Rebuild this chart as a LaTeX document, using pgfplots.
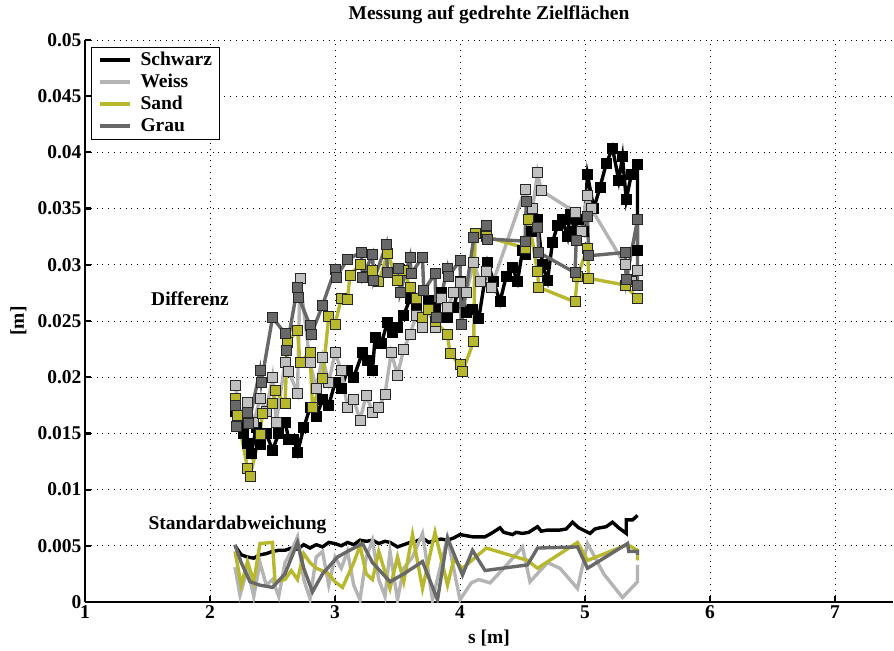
\documentclass[border=0pt]{standalone}
\usepackage{pgfplots}
\pgfplotsset{compat=1.18}
\usepackage{fontspec}
\setmainfont{Liberation Serif}
\definecolor{weiss}{RGB}{180,180,180}
\definecolor{weissf}{RGB}{192,192,192}
\definecolor{sand}{RGB}{184,184,46}
\definecolor{grau}{RGB}{104,104,104}
\newcommand{\ff}{\fontsize{19.5bp}{22bp}\selectfont\bfseries}
\begin{document}
\begin{tikzpicture}
\path[use as bounding box] (-85bp,-49bp) rectangle (809bp,602bp);
\begin{axis}[
  scale only axis, width=808bp, height=562bp,
  xmin=1, xmax=7.464, ymin=0, ymax=0.05,
  xtick={1,2,3,4,5,6,7},
  ytick={0,0.005,0.01,0.015,0.02,0.025,0.03,0.035,0.04,0.045,0.05},
  scaled y ticks=false,
  /pgf/number format/fixed, /pgf/number format/precision=3, /pgf/number format/assume math mode=true,
  axis x line*=bottom, axis y line*=left,
  axis line style={line width=2.6bp, -},
  tick align=inside, major tick length=6bp,
  every tick/.style={line width=2.2bp, black},
  grid=major,
  major grid style={black, line width=0.7bp, dash pattern=on 0.8bp off 5bp},
  ticklabel style={font=\ff},
  title={Messung auf gedrehte Zielflächen},
  title style={font=\ff, at={(axis description cs:0.5,1.0267)}, anchor=base},
  xlabel={s [m]},
  xlabel style={font=\ff, at={(axis description cs:0.5,-0.0747)}, anchor=base},
  ylabel={[m]},
  ylabel style={font=\ff, at={(axis description cs:-0.0755,0.5)}, anchor=base},
  legend style={font=\ff, at={(axis description cs:0.0075,0.988)}, anchor=north west,
    draw=black, line width=0.9bp, inner xsep=6bp, inner ysep=3bp, row sep=2bp, fill=white,
    nodes={inner sep=1bp, text height=14bp, text depth=4bp},
    /tikz/every odd column/.append style={column sep=8bp}},
  legend cell align=left,
  legend image code/.code={\draw[#1] (0bp,0bp) -- (30bp,0bp);},
  every axis plot/.append style={line width=3.4bp},
  mark size=5bp,
]
\addlegendimage{black, line width=4bp}
\addlegendentry{Schwarz}
\addlegendimage{weiss, line width=4bp}
\addlegendentry{Weiss}
\addlegendimage{sand, line width=4bp}
\addlegendentry{Sand}
\addlegendimage{grau, line width=4bp}
\addlegendentry{Grau}

% ---------------- Differenz ----------------
\addplot[forget plot, black, mark=square*, mark options={solid, fill=black, draw=black, line width=0.8bp}] coordinates {
(2.20,0.0170) (2.22,0.0158) (2.27,0.0150) (2.30,0.0141) (2.33,0.0132) (2.37,0.0155)
(2.40,0.0140) (2.45,0.0150) (2.50,0.0135) (2.55,0.0150) (2.60,0.0160) (2.63,0.0145)
(2.67,0.0145) (2.70,0.0133) (2.75,0.0155) (2.80,0.0173) (2.85,0.0165) (2.90,0.0180)
(2.95,0.0175) (3.00,0.0195) (3.05,0.0190) (3.10,0.0206) (3.15,0.0200) (3.22,0.0222)
(3.26,0.0215) (3.30,0.0206) (3.32,0.0235) (3.37,0.0230) (3.42,0.0249) (3.46,0.0240)
(3.50,0.0244) (3.55,0.0255) (3.60,0.0270) (3.65,0.0262) (3.70,0.0253) (3.75,0.0268)
(3.80,0.0262) (3.85,0.0275) (3.90,0.0253) (3.95,0.0262) (4.00,0.0285) (4.05,0.0258)
(4.10,0.0260) (4.15,0.0252) (4.22,0.0302) (4.27,0.0285) (4.32,0.0267) (4.37,0.0290)
(4.42,0.0298) (4.46,0.0285) (4.50,0.0313) (4.52,0.0309) (4.57,0.0330) (4.62,0.0340)
(4.66,0.0300) (4.70,0.0286) (4.74,0.0320) (4.78,0.0335) (4.82,0.0340) (4.86,0.0325)
(4.88,0.0345) (4.92,0.0330) (4.95,0.0340) (4.99,0.0330) (5.02,0.0380) (5.07,0.0350)
(5.12,0.0369) (5.17,0.0390) (5.22,0.0404) (5.27,0.0375) (5.30,0.0396) (5.33,0.0358)
(5.37,0.0380) (5.42,0.0389) (5.42,0.0313)
};
\addplot[forget plot, weiss, mark=square*, mark options={solid, fill=weissf, draw=black!85, line width=0.8bp}] coordinates {
(2.20,0.0193) (2.25,0.0165) (2.30,0.0178) (2.35,0.0160) (2.40,0.0181) (2.45,0.0170)
(2.50,0.0200) (2.53,0.0160) (2.60,0.0213) (2.63,0.0205) (2.70,0.0186) (2.72,0.0288)
(2.80,0.0213) (2.85,0.0190) (2.90,0.0218) (2.95,0.0195) (3.00,0.0222) (3.05,0.0206)
(3.10,0.0173) (3.15,0.0180) (3.20,0.0162) (3.25,0.0184) (3.30,0.0169) (3.35,0.0173)
(3.40,0.0185) (3.45,0.0222) (3.50,0.0202) (3.55,0.0225) (3.60,0.0238) (3.65,0.0255)
(3.70,0.0244) (3.75,0.0260) (3.80,0.0244) (3.85,0.0270) (3.90,0.0262) (3.95,0.0275)
(4.00,0.0284) (4.05,0.0275) (4.11,0.0302) (4.16,0.0285) (4.21,0.0294) (4.25,0.0280)
(4.52,0.0367) (4.58,0.0350) (4.62,0.0382) (4.65,0.0366) (4.92,0.0347) (4.97,0.0330)
(5.02,0.0362) (5.05,0.0350) (5.32,0.0300) (5.37,0.0285) (5.42,0.0295)
};
\addplot[forget plot, sand, mark=square*, mark options={solid, fill=sand, draw=black!85, line width=0.8bp}] coordinates {
(2.20,0.0181) (2.22,0.0166) (2.30,0.0119) (2.32,0.0112) (2.40,0.0149) (2.42,0.0168)
(2.50,0.0177) (2.52,0.0188) (2.60,0.0177) (2.62,0.0231) (2.70,0.0242) (2.72,0.0213)
(2.80,0.0222) (2.82,0.0173) (2.90,0.0199) (2.95,0.0254) (3.00,0.0247) (3.05,0.0270)
(3.10,0.0269) (3.12,0.0291) (3.20,0.0300) (3.25,0.0290) (3.30,0.0295) (3.35,0.0285)
(3.42,0.0310) (3.50,0.0286) (3.55,0.0295) (3.60,0.0280) (3.65,0.0270) (3.70,0.0253)
(3.75,0.0260) (3.80,0.0250) (3.90,0.0238) (3.92,0.0221) (4.00,0.0211) (4.02,0.0205)
(4.11,0.0232) (4.12,0.0328) (4.21,0.0325) (4.52,0.0315) (4.55,0.0340) (4.62,0.0294)
(4.63,0.0280) (4.92,0.0267) (4.94,0.0290) (5.02,0.0315) (5.03,0.0288) (5.32,0.0282)
(5.42,0.0270)
};
\addplot[forget plot, grau, mark=square*, mark options={solid, fill=grau, draw=black!85, line width=0.8bp}] coordinates {
(2.20,0.0175) (2.21,0.0156) (2.30,0.0169) (2.31,0.0159) (2.40,0.0206) (2.41,0.0195)
(2.50,0.0253) (2.60,0.0239) (2.61,0.0224) (2.70,0.0280) (2.71,0.0271) (2.80,0.0246)
(2.81,0.0238) (2.90,0.0264) (3.00,0.0296) (3.01,0.0289) (3.10,0.0305) (3.21,0.0311)
(3.22,0.0289) (3.30,0.0309) (3.31,0.0286) (3.41,0.0318) (3.42,0.0293) (3.51,0.0297)
(3.52,0.0275) (3.60,0.0307) (3.61,0.0292) (3.70,0.0307) (3.71,0.0277) (3.80,0.0292)
(3.81,0.0253) (3.90,0.0297) (3.91,0.0290) (4.00,0.0304) (4.01,0.0247) (4.11,0.0324)
(4.21,0.0335) (4.22,0.0323) (4.52,0.0321) (4.53,0.0356) (4.62,0.0333) (4.63,0.0311)
(4.92,0.0293) (4.93,0.0322) (5.02,0.0343) (5.03,0.0308) (5.32,0.0311) (5.33,0.0287)
(5.42,0.0340) (5.42,0.0282)
};

% ---------------- Standardabweichung ----------------
\addplot[forget plot, black] coordinates {
(2.20,0.0050) (2.25,0.0042) (2.30,0.0040) (2.35,0.0039) (2.40,0.0042) (2.45,0.0043)
(2.50,0.0045) (2.55,0.0046) (2.60,0.0046) (2.65,0.0048) (2.70,0.0047) (2.75,0.0051)
(2.80,0.0048) (2.85,0.0051) (2.90,0.0049) (2.95,0.0053) (3.00,0.0052) (3.05,0.0050)
(3.10,0.0053) (3.15,0.0051) (3.20,0.0055) (3.25,0.0054) (3.30,0.0055) (3.35,0.0052)
(3.40,0.0054) (3.44,0.0053) (3.50,0.0049) (3.55,0.0051) (3.60,0.0053) (3.65,0.0054)
(3.70,0.0057) (3.75,0.0053) (3.80,0.0055) (3.85,0.0056) (3.90,0.0055) (3.95,0.0057)
(4.00,0.0060) (4.05,0.0059) (4.10,0.0058) (4.15,0.0058) (4.20,0.0058) (4.25,0.0061)
(4.32,0.0066) (4.35,0.0062) (4.42,0.0060) (4.45,0.0062) (4.50,0.0061) (4.55,0.0062)
(4.62,0.0067) (4.65,0.0063) (4.70,0.0064) (4.75,0.0064) (4.80,0.0064) (4.85,0.0065)
(4.90,0.0071) (4.95,0.0066) (5.04,0.0061) (5.08,0.0065) (5.12,0.0066) (5.17,0.0067)
(5.22,0.0071) (5.27,0.0066) (5.33,0.0061) (5.33,0.0073) (5.38,0.0073) (5.42,0.0077)
};
\addplot[forget plot, weiss] coordinates {
(2.20,0.0031) (2.24,0.0006) (2.30,0.0030) (2.35,0.0005) (2.40,0.0035) (2.45,0.0015)
(2.50,0.0020) (2.55,0.0005) (2.60,0.0035) (2.65,0.0045) (2.70,0.0058) (2.75,0.0020)
(2.80,0.0003) (2.85,0.0040) (2.90,0.0045) (2.95,0.0015) (3.00,0.0040) (3.05,0.0030)
(3.10,0.0045) (3.15,0.0015) (3.20,0.0002) (3.25,0.0040) (3.30,0.0055) (3.35,0.0020)
(3.40,0.0005) (3.44,0.0045) (3.50,0.0002) (3.55,0.0030) (3.62,0.0040) (3.70,0.0061)
(3.78,0.0002) (3.85,0.0035) (3.90,0.0057) (4.00,0.0002) (4.09,0.0017) (4.15,0.0020)
(4.24,0.0017) (4.35,0.0030) (4.50,0.0049) (4.56,0.0018) (4.70,0.0035) (4.80,0.0030)
(4.94,0.0012) (5.02,0.0052) (5.15,0.0025) (5.30,0.0004) (5.42,0.0018) (5.42,0.0033)
};
\addplot[forget plot, sand] coordinates {
(2.20,0.0045) (2.25,0.0015) (2.30,0.0036) (2.35,0.0018) (2.40,0.0052) (2.50,0.0053)
(2.52,0.0018) (2.60,0.0020) (2.65,0.0028) (2.70,0.0020) (2.75,0.0043) (2.80,0.0035)
(2.85,0.0030) (2.94,0.0026) (3.00,0.0018) (3.06,0.0013) (3.15,0.0035) (3.20,0.0050)
(3.25,0.0025) (3.30,0.0020) (3.35,0.0045) (3.44,0.0012) (3.50,0.0040) (3.55,0.0018)
(3.62,0.0060) (3.70,0.0012) (3.80,0.0062) (3.90,0.0015) (3.95,0.0038) (4.02,0.0030)
(4.21,0.0048) (4.54,0.0037) (4.62,0.0030) (4.94,0.0053) (5.02,0.0037) (5.34,0.0051)
(5.42,0.0046) (5.42,0.0037)
};
\addplot[forget plot, grau] coordinates {
(2.20,0.0051) (2.25,0.0035) (2.32,0.0018) (2.40,0.0015) (2.50,0.0013) (2.60,0.0025)
(2.70,0.0053) (2.75,0.0030) (2.82,0.0009) (2.90,0.0025) (3.02,0.0040) (3.10,0.0045)
(3.22,0.0052) (3.30,0.0035) (3.44,0.0018) (3.55,0.0025) (3.70,0.0036) (3.82,0.0002)
(3.90,0.0057) (4.02,0.0024) (4.10,0.0046) (4.20,0.0028) (4.54,0.0033) (4.62,0.0048)
(4.94,0.0049) (5.02,0.0030) (5.34,0.0052) (5.35,0.0045) (5.42,0.0045) (5.42,0.0042)
};

\node[font=\ff] at (axis cs:1.84,0.0270) {Differenz};
\node[font=\ff] at (axis cs:2.22,0.0069) {Standardabweichung};
\end{axis}
\end{tikzpicture}
\end{document}
